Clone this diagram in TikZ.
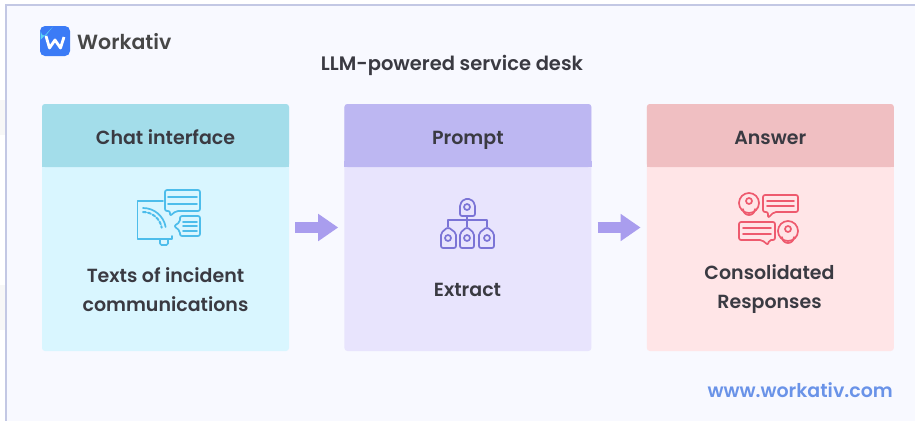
\documentclass[tikz,border=0pt]{standalone}
\usepackage{fontspec}
\setmainfont{Poppins}[BoldFont=Poppins SemiBold]
\usepackage{tikz}
\usetikzlibrary{arrows.meta,positioning,calc}
\definecolor{panelcolor}{HTML}{F8F9FF}
\definecolor{framecolor}{HTML}{C3C8E4}
\definecolor{chathead}{HTML}{A3DDEA}
\definecolor{chatbody}{HTML}{D9F6FF}
\definecolor{chaticon}{HTML}{4DBDEB}
\definecolor{prompthead}{HTML}{BDB7F2}
\definecolor{promptbody}{HTML}{E8E4FD}
\definecolor{prompticon}{HTML}{7B74D6}
\definecolor{answerhead}{HTML}{F0BFC2}
\definecolor{answerbody}{HTML}{FFE5E7}
\definecolor{answericon}{HTML}{EE5A6E}
\definecolor{arrowcolor}{HTML}{A99DEE}
\definecolor{urlcolor}{HTML}{6A93E8}
\definecolor{inkcolor}{HTML}{3A3A42}
\definecolor{logocolor}{HTML}{3B7BF6}
\definecolor{logocyan}{HTML}{5AD4F5}
\tikzset{
    bodybox/.style={minimum width=247pt, minimum height=247pt, inner sep=0pt, rounded corners=3pt},
    headbox/.style={minimum width=247pt, minimum height=63pt, inner sep=0pt, rounded corners=3pt, anchor=north,
        font=\fontsize{19}{20}\selectfont\bfseries, text=inkcolor, text height=17pt, text depth=0pt},
    bodytext/.style={align=center, font=\fontsize{19}{29}\selectfont\bfseries, text=inkcolor},
    flowarrow/.style={draw=arrowcolor, line width=11pt, shorten <=6pt, shorten >=6pt,
        -{Triangle[length=20pt,width=26pt]}},
    iconline/.style={line width=1.7pt, line join=round, line cap=round, fill=none}
}
\begin{document}
\begin{tikzpicture}[x=1pt,y=-1pt]
    \useasboundingbox (0,0) rectangle (915,421);
    \fill[white] (0,0) rectangle (915,421);
    \fill[black!3] (0,100) rectangle (6,135);
    \fill[black!3] (0,285) rectangle (6,330);
    \fill[panelcolor] (6,5) rectangle (915,421);
    \draw[draw=framecolor, line width=1.2pt] (915,5) -- (6,5) -- (6,421);

    % logo and headings
    \fill[logocolor, rounded corners=5pt] (40,26) rectangle (70,56);
    \fill[logocyan] (40.5,40) -- (40.5,31) arc[start angle=180, end angle=270, radius=5pt] -- (53,26.5) -- cycle;
    \draw[white, line width=2.8pt, line join=round] (46,36) -- (49.5,48) -- (55,40) -- (60.5,48) -- (64,37);
    \node[font=\fontsize{20.5}{24}\selectfont\bfseries, text=black!72, anchor=west, inner sep=0pt] (logotext) at (77,42) {Workativ};
    \node[font=\fontsize{19.5}{22}\selectfont\bfseries, text=inkcolor, inner sep=0pt] (title) at (452,65) {LLM-powered service desk};
    \node[font=\fontsize{19}{20}\selectfont\bfseries, text=urlcolor, anchor=east, inner sep=0pt] (url) at (893,390) {www.workativ.com};

    % boxes
    \node[bodybox, fill=chatbody] (chatbox) at (165.5,227.5) {};
    \node[bodybox, fill=promptbody, right=55pt of chatbox] (promptbox) {};
    \node[bodybox, fill=answerbody, right=55pt of promptbox] (answerbox) {};
    \node[headbox, fill=chathead] (chathead) at (chatbox.north) {Chat interface};
    \node[headbox, fill=prompthead] (prompthead) at (promptbox.north) {Prompt};
    \node[headbox, fill=answerhead] (answerhead) at (answerbox.north) {Answer};
    \fill[chathead] ([yshift=6pt]chathead.south west) rectangle (chathead.south east);
    \fill[prompthead] ([yshift=6pt]prompthead.south west) rectangle (prompthead.south east);
    \fill[answerhead] ([yshift=6pt]answerhead.south west) rectangle (answerhead.south east);

    \node[bodytext] (chattext) at (165.5,290) {Texts of incident\\communications};
    \node[bodytext] (prompttext) at (467.5,290) {Extract};
    \node[bodytext] (answertext) at (769.5,289) {Consolidated\\Responses};

    \draw[flowarrow] (chatbox.east) -- (promptbox.west);
    \draw[flowarrow] (promptbox.east) -- (answerbox.west);

    % chat icon
    \draw[iconline, chaticon] (163,201) -- (137.5,201) -- (137.5,239) -- (172,239) -- (172,236);
    \draw[iconline, chaticon] (143,208) arc[start angle=90, end angle=10, radius=23pt];
    \draw[iconline, chaticon, line width=2pt, dash pattern=on 3pt off 2pt] (143,212) arc[start angle=90, end angle=10, radius=19pt];
    \draw[iconline, chaticon, rounded corners=2pt] (165,190) -- (200,190) -- (200,211) -- (176,211) -- (170,216) -- (170,211) -- (165,211) -- cycle;
    \draw[iconline, chaticon, rounded corners=2pt] (180,216) -- (200,216) -- (200,236) -- (180,236) -- (180,231) -- (174,226) -- (180,222) -- cycle;
    \draw[iconline, chaticon] (168,197) -- (197,197) (168,204) -- (197,204);
    \draw[iconline, chaticon] (183,222) -- (197,222) (183,226) -- (197,226) (183,231) -- (197,231);
    \draw[iconline, chaticon, rounded corners=1.5pt] (160,240) -- (160,245) -- (168,245) -- (168,240);

    % prompt icon
    \draw[iconline, prompticon] (467,216) -- (467,227) (448,227) -- (448,220) -- (487,220) -- (487,227);
    \draw[iconline, prompticon, rounded corners=2pt] (460,216) -- (460,204) -- (464,199) -- (471,199) -- (475,204) -- (475,216) -- cycle;
    \draw[iconline, prompticon] (467,207) circle[radius=3pt];
    \draw[iconline, prompticon, rounded corners=2pt] (441,248) -- (441,233) -- (448,227) -- (456,233) -- (456,248) -- cycle;
    \draw[iconline, prompticon, rounded corners=2pt] (460,248) -- (460,233) -- (467,227) -- (474,233) -- (474,248) -- cycle;
    \draw[iconline, prompticon, rounded corners=2pt] (479,248) -- (479,233) -- (487,227) -- (494,233) -- (494,248) -- cycle;
    \draw[iconline, prompticon] (448,238) circle[radius=3pt] (467,238) circle[radius=3pt] (487,238) circle[radius=3pt];

    % answer icon
    \draw[iconline, answericon] (749,203) circle[radius=10pt] (788,231) circle[radius=10pt];
    \draw[iconline, answericon] (749,201) circle[radius=3pt] (788,229) circle[radius=3pt];
    \draw[iconline, answericon] (743,209) arc[start angle=180, end angle=360, radius=6pt];
    \draw[iconline, answericon] (782,237) arc[start angle=180, end angle=360, radius=6pt];
    \draw[iconline, answericon, rounded corners=2pt] (763,195) -- (798,195) -- (798,212) -- (774,212) -- (768,218) -- (768,212) -- (763,212) -- cycle;
    \draw[iconline, answericon, rounded corners=2pt] (739,222) -- (775,222) -- (775,240) -- (769,240) -- (768,245) -- (762,240) -- (739,240) -- cycle;
    \draw[iconline, answericon] (767,201) -- (794,201) (767,206) -- (794,206);
    \draw[iconline, answericon] (743,228) -- (771,228) (743,234) -- (771,234);
\end{tikzpicture}
\end{document}
